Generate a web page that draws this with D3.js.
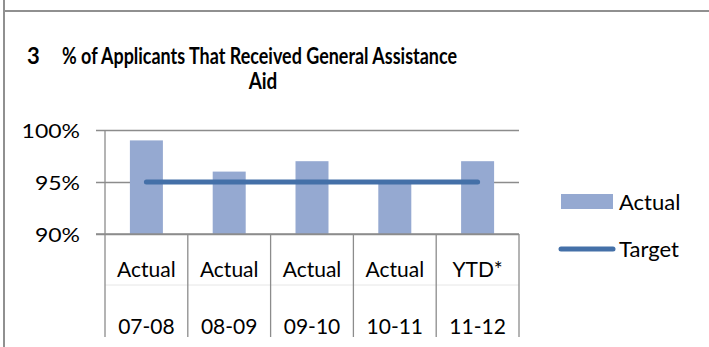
<!DOCTYPE html>
<html>
<head>
<meta charset="utf-8">
<script src="https://cdn.jsdelivr.net/npm/d3@7"></script>
<style>
  body { margin: 0; background: #fff; }
  svg { display: block; font-family: Lato, "Open Sans", sans-serif; }
  .grid line { stroke: #8c8c8c; stroke-width: 1.3; }
</style>
</head>
<body>
<div id="chart"></div>
<script>
// chart values
var topLabels = ['Actual', 'Actual', 'Actual', 'Actual', 'YTD*'];
var periods = ['07-08', '08-09', '09-10', '10-11', '11-12'];
var actual = [99, 96, 97, 95, 97];
var target = [95, 95, 95, 95, 95];
var yTicks = [90, 95, 100];
var seriesNames = ['Actual', 'Target'];

var width = 709, height = 347;
var barColor = '#95a9d1', lineColor = '#4470a8', gridColor = '#8c8c8c';

var svg = d3.select('#chart').append('svg')
    .attr('width', width)
    .attr('height', height);

// outer frame
svg.append('line').attr('x1', 4).attr('x2', width).attr('y1', 11).attr('y2', 11)
    .attr('stroke', '#909090').attr('stroke-width', 2);
svg.append('line').attr('x1', 4).attr('x2', 4).attr('y1', 0).attr('y2', height)
    .attr('stroke', '#909090').attr('stroke-width', 2);

// title
svg.append('text').attr('x', 27).attr('y', 64)
    .attr('font-size', 22).attr('font-weight', 'bold').text('3');
svg.append('text').attr('x', 62).attr('y', 64)
    .attr('font-size', 22).attr('font-weight', 'bold')
    .attr('textLength', 395).attr('lengthAdjust', 'spacingAndGlyphs')
    .text('% of Applicants That Received General Assistance');
svg.append('text').attr('x', 263).attr('y', 89).attr('text-anchor', 'middle')
    .attr('font-size', 22).attr('font-weight', 'bold')
    .attr('transform', 'translate(263,0) scale(0.86,1) translate(-263,0)')
    .text('Aid');

var x = d3.scaleBand().domain(periods).range([105, 519]);
var y = d3.scaleLinear().domain([90, 100]).range([234, 130]);

// gridlines + y axis
var yAxis = svg.append('g').attr('class', 'grid')
    .attr('transform', 'translate(105,0)')
    .call(d3.axisLeft(y).tickValues(yTicks).tickSize(-(519 - 105)).tickPadding(0)
        .tickFormat(function (d) { return d + '%'; }));
yAxis.select('.domain').remove();
yAxis.selectAll('line').attr('x1', -9);
yAxis.selectAll('text').attr('font-size', 20).attr('fill', '#000')
    .attr('font-family', 'Lato, sans-serif')
    .attr('x', 0).attr('dy', '0.36em')
    .attr('transform', 'translate(-25,0) scale(1.15,1)');

// left axis line
svg.append('line').attr('x1', 105).attr('x2', 105).attr('y1', 130).attr('y2', 234)
    .attr('stroke', gridColor).attr('stroke-width', 1.3);

// bars
var barW = 33;
svg.append('g').selectAll('rect').data(actual).enter().append('rect')
    .attr('x', function (d, i) { return x(periods[i]) + x.bandwidth() / 2 - barW / 2; })
    .attr('y', function (d) { return y(d); })
    .attr('width', barW)
    .attr('height', function (d) { return y(90) - y(d); })
    .attr('fill', barColor);

// target line
var line = d3.line()
    .x(function (d, i) { return x(periods[i]) + x.bandwidth() / 2; })
    .y(function (d) { return y(d); });
svg.append('path').datum(target).attr('d', line)
    .attr('fill', 'none').attr('stroke', lineColor).attr('stroke-width', 5)
    .attr('stroke-linecap', 'round');

// category table
var tableBottom = 337;
svg.append('line').attr('x1', 105).attr('x2', 519).attr('y1', 285).attr('y2', 285)
    .attr('stroke', '#e6e6e6').attr('stroke-width', 1);
var bounds = periods.map(function (p) { return x(p); }).concat([519]);
svg.append('g').selectAll('line').data(bounds).enter().append('line')
    .attr('x1', function (d) { return d; }).attr('x2', function (d) { return d; })
    .attr('y1', 234).attr('y2', tableBottom)
    .attr('stroke', gridColor).attr('stroke-width', 1.3);
svg.append('line').attr('x1', 96).attr('x2', 519).attr('y1', y(90)).attr('y2', y(90))
    .attr('stroke', gridColor).attr('stroke-width', 1.3);

svg.append('g').selectAll('text').data(topLabels).enter().append('text')
    .attr('x', function (d, i) { return x(periods[i]) + x.bandwidth() / 2; })
    .attr('y', 277).attr('text-anchor', 'middle').attr('font-size', 21)
    .text(function (d) { return d; });
svg.append('g').selectAll('text').data(periods).enter().append('text')
    .attr('x', function (d) { return x(d) + x.bandwidth() / 2; })
    .attr('y', 334).attr('text-anchor', 'middle').attr('font-size', 21)
    .text(function (d) { return d; });

// legend
var legend = svg.append('g');
legend.append('rect').attr('x', 561).attr('y', 194).attr('width', 52).attr('height', 15)
    .attr('fill', barColor);
legend.append('line').attr('x1', 561).attr('x2', 613).attr('y1', 249).attr('y2', 249)
    .attr('stroke', lineColor).attr('stroke-width', 5).attr('stroke-linecap', 'round');
legend.selectAll('text').data(seriesNames).enter().append('text')
    .attr('x', 619).attr('y', function (d, i) { return 210 + i * 47; })
    .attr('font-size', 22).text(function (d) { return d; });
</script>
</body>
</html>
